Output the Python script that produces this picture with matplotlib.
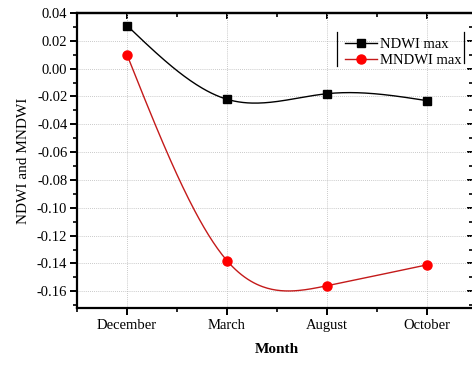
import matplotlib
matplotlib.use("Agg")
import matplotlib.pyplot as plt
import numpy as np
from matplotlib.ticker import MultipleLocator, FormatStrFormatter, NullFormatter

# data
months = ["December", "March", "August", "October"]
ndwi_max = [0.031, -0.022, -0.018, -0.023]
mndwi_max = [0.010, -0.138, -0.156, -0.141]


def natural_spline(x, y, n=200):
    # natural cubic spline through the points, like Origin's "spline" line
    x = np.asarray(x, float)
    y = np.asarray(y, float)
    k = len(x)
    h = np.diff(x)
    A = np.zeros((k, k))
    b = np.zeros(k)
    A[0, 0] = A[-1, -1] = 1
    for i in range(1, k - 1):
        A[i, i - 1] = h[i - 1]
        A[i, i] = 2 * (h[i - 1] + h[i])
        A[i, i + 1] = h[i]
        b[i] = 6 * ((y[i + 1] - y[i]) / h[i] - (y[i] - y[i - 1]) / h[i - 1])
    M = np.linalg.solve(A, b)
    xs = np.linspace(x[0], x[-1], n)
    idx = np.clip(np.searchsorted(x, xs) - 1, 0, k - 2)
    x0, x1 = x[idx], x[idx + 1]
    hh = x1 - x0
    ys = (M[idx] * (x1 - xs) ** 3 / (6 * hh) + M[idx + 1] * (xs - x0) ** 3 / (6 * hh)
          + (y[idx] / hh - M[idx] * hh / 6) * (x1 - xs)
          + (y[idx + 1] / hh - M[idx + 1] * hh / 6) * (xs - x0))
    return xs, ys


plt.rcParams['font.family'] = ['Liberation Serif', 'DejaVu Serif']
plt.rcParams['font.size'] = 10

fig = plt.figure(figsize=(4.72, 3.65), dpi=100)
# the right edge of the frame sits just past the picture, as in the original crop
ax = fig.add_axes([77 / 472, 57 / 365, 400 / 472, 295 / 365])

xpos = np.arange(len(months))
red_line = '#c41a1a'

xs, ys = natural_spline(xpos, ndwi_max)
ax.plot(xs, ys, color='black', lw=1.0, zorder=3)
ax.plot(xpos, ndwi_max, 's', color='black', ms=5.8, zorder=4)

xs, ys = natural_spline(xpos, mndwi_max)
ax.plot(xs, ys, color=red_line, lw=1.0, zorder=3)
ax.plot(xpos, mndwi_max, 'o', color='#ff0000', ms=6.5, zorder=4)

ax.set_xlim(-0.5, 3.5)
ax.set_ylim(-0.172, 0.04)
ax.set_xticks(xpos)
ax.set_xticklabels(months)
ax.xaxis.set_minor_locator(MultipleLocator(0.5))
ax.yaxis.set_major_locator(MultipleLocator(0.02))
ax.yaxis.set_minor_locator(MultipleLocator(0.01))
ax.yaxis.set_major_formatter(FormatStrFormatter('%.2f'))

ax.grid(True, which='major', color='#b8b8b8', ls=(0, (1, 1.5)), lw=0.6)
ax.set_axisbelow(True)

for s in ax.spines.values():
    s.set_linewidth(1.6)

ax.tick_params(which='major', direction='out', length=5, width=1.4, top=False, right=False)
ax.tick_params(which='minor', direction='out', length=3, width=1.2, top=False, right=False)
ax.tick_params(axis='y', which='major', labelsize=10.5, pad=2)
ax.tick_params(axis='x', which='major', labelsize=10.5, pad=3)

# inward ticks on the top and right edges
top = ax.secondary_xaxis('top')
top.set_xticks(xpos)
top.xaxis.set_minor_locator(MultipleLocator(0.5))
top.xaxis.set_major_formatter(NullFormatter())
top.tick_params(which='major', direction='in', length=4, width=1.4)
top.tick_params(which='minor', direction='in', length=3, width=1.2)
top.spines['top'].set_linewidth(1.6)

right = ax.secondary_yaxis('right')
right.yaxis.set_major_locator(MultipleLocator(0.02))
right.yaxis.set_minor_locator(MultipleLocator(0.01))
right.yaxis.set_major_formatter(NullFormatter())
right.tick_params(which='major', direction='in', length=7, width=1.4)
right.tick_params(which='minor', direction='in', length=6, width=1.2)

ax.set_ylabel("NDWI and MNDWI", fontsize=11, labelpad=5)
ax.set_xlabel("Month", fontsize=11, fontweight='bold', labelpad=8)

# legend built from proxy handles matching the series styles
h1, = ax.plot([], [], '-s', color='black', ms=5.8, lw=1.0)
h2, = ax.plot([], [], '-o', color=red_line, mfc='#ff0000', mec='#ff0000', ms=6.5, lw=1.0)
leg = ax.legend([h1, h2], ["NDWI max", "MNDWI max"], loc='upper left',
                bbox_to_anchor=(0.655, 0.935), frameon=False, handlelength=2.2,
                handletextpad=0.2, labelspacing=0.2, fontsize=10.5, borderaxespad=0)
ax.plot([0.65, 0.65], [0.82, 0.935], color='black', lw=0.9, transform=ax.transAxes, clip_on=False)
ax.plot([0.967, 0.967], [0.83, 0.935], color='black', lw=0.9, transform=ax.transAxes, clip_on=False)

fig.savefig("out.png", dpi=100)
